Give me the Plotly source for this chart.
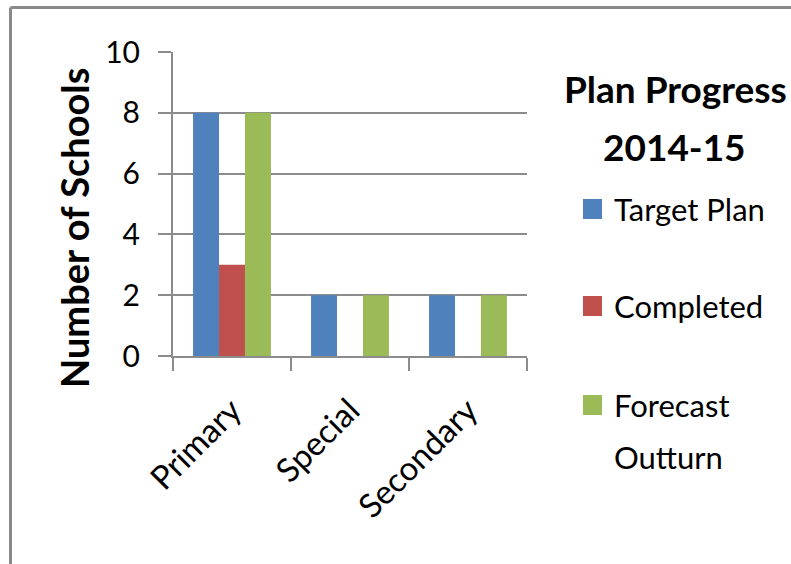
import plotly.graph_objects as go

categories = ["Primary", "Special", "Secondary"]
series_names = ["Target Plan", "Completed", "Forecast Outturn"]
target_plan = [8, 2, 2]
completed = [3, 0, 0]
forecast_outturn = [8, 2, 2]
series_values = [target_plan, completed, forecast_outturn]
colors = ["#4F81BD", "#C0504D", "#9BBB59"]
y_ticks = [0, 2, 4, 6, 8, 10]

W, H = 791, 564
PL, PR, PT, PB = 173, 527, 52, 356  # plot area in pixels


def px(x):
    return (x - PL) / (PR - PL)


def py(y):
    return (PB - y) / (PB - PT)


FONT = "Lato"
fig = go.Figure()
for name, vals, col in zip(series_names, series_values, colors):
    fig.add_trace(go.Bar(x=categories, y=vals, name=name,
                         marker=dict(color=col, line=dict(width=0)),
                         showlegend=False))

grid = "#8C8C8C"
fig.update_layout(
    width=W, height=H, autosize=False,
    margin=dict(l=PL, r=W - PR, t=PT, b=H - PB, pad=0),
    paper_bgcolor="white", plot_bgcolor="white",
    barmode="group", bargap=0.34, bargroupgap=0,
    font=dict(family=FONT, color="#000000"),
    xaxis=dict(range=[-0.5, 2.5], tickson="boundaries", ticks="outside",
               ticklen=13, tickwidth=2, tickcolor=grid, showline=True,
               linecolor=grid, linewidth=2, showgrid=False, tickangle=-45,
               tickfont=dict(size=33, family=FONT, color="#000"),
               ticklabelstandoff=20),
    yaxis=dict(range=[0, 10], tickvals=y_ticks, ticks="outside", ticklen=13,
               tickwidth=2, tickcolor=grid, showline=True, linecolor=grid,
               linewidth=2, showgrid=True, gridcolor=grid, gridwidth=2,
               zeroline=False,
               tickfont=dict(size=30, family=FONT, color="#000"),
               ticklabelstandoff=12),
)

annotations = [
    dict(text="<b>Number of Schools</b>", x=px(74), y=py(228), textangle=-90,
         font=dict(size=38, family=FONT, color="#000")),
    dict(text="<b>Plan Progress</b>", x=px(675), y=py(88),
         font=dict(size=37, family=FONT, color="#000")),
    dict(text="<b>2014-15</b>", x=px(674), y=py(146),
         font=dict(size=37, family=FONT, color="#000")),
]
legend_y = [209, 306, 405]
shapes = []
for name, col, cy in zip(series_names, colors, legend_y):
    shapes.append(dict(type="rect", xref="paper", yref="paper",
                       x0=px(583), x1=px(602), y0=py(cy - 10), y1=py(cy + 10),
                       fillcolor=col, line=dict(width=0)))
    words = name.split(" ", 1) if name == "Forecast Outturn" else [name]
    for i, w in enumerate(words):
        annotations.append(dict(text=w, x=px(612), y=py(cy + 52 * i),
                                xanchor="left",
                                font=dict(size=31, family=FONT, color="#000")))

for a in annotations:
    a.setdefault("xref", "paper")
    a.setdefault("yref", "paper")
    a.setdefault("xanchor", "center")
    a.setdefault("yanchor", "middle")
    a.setdefault("showarrow", False)

# outer chart frame (top and left edges)
shapes.append(dict(type="line", xref="paper", yref="paper", x0=px(10.5), x1=px(791),
                   y0=py(7.5), y1=py(7.5), line=dict(color="#8A8A8A", width=3)))
shapes.append(dict(type="line", xref="paper", yref="paper", x0=px(10.5), x1=px(10.5),
                   y0=py(7.5), y1=py(564), line=dict(color="#8A8A8A", width=3)))

fig.update_layout(annotations=annotations, shapes=shapes)
fig.write_html("out.html")
